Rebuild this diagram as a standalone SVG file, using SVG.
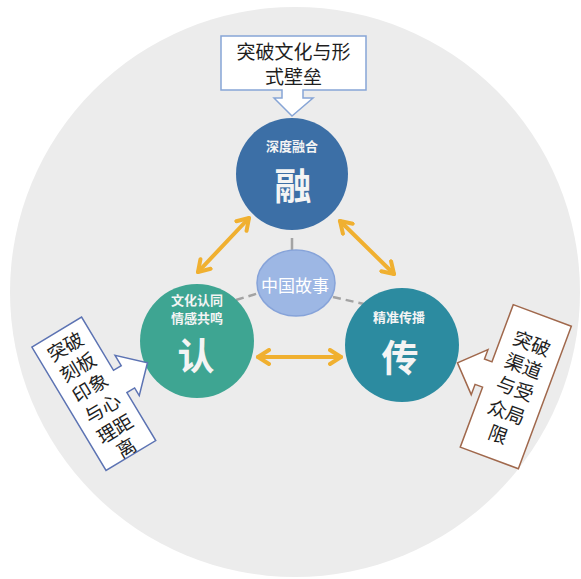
<svg xmlns="http://www.w3.org/2000/svg" width="581" height="579" viewBox="0 0 581 579">
  <style>
    .cjk { font-family: "Noto Sans CJK SC", "Noto Sans", sans-serif; }
    .callout { fill: #ffffff; stroke-width: 1.5; stroke-linejoin: miter; }
    .ctext { font-size: 19px; fill: #1e1e1e; text-anchor: middle; }
    .wtext { fill: #f4f4f4; text-anchor: middle; font-weight: bold; }
    .link { stroke: #f0b030; stroke-width: 4; fill: none; stroke-linecap: round; marker-start: url(#chev); marker-end: url(#chev); }
    .gray { stroke: #a3a3a3; stroke-width: 2.5; fill: none; }
  </style>
  <defs>
    <marker id="chev" markerUnits="userSpaceOnUse" markerWidth="16" markerHeight="18" viewBox="0 0 16 18" refX="13" refY="9" orient="auto-start-reverse">
      <path d="M2,2 L13,9 L2,16" fill="none" stroke="#f0b030" stroke-width="4" stroke-linecap="round" stroke-linejoin="round"/>
    </marker>
  </defs>
  <rect width="581" height="579" fill="#ffffff"/>
  <circle id="background" cx="295" cy="292" r="285" fill="#ececec"/>

  <g id="connectors">
    <line class="gray" x1="292" y1="238" x2="292" y2="250"/>
    <line class="gray" x1="236" y1="300" x2="259" y2="293" stroke-dasharray="8 5"/>
    <line class="gray" x1="333" y1="297" x2="364" y2="304" stroke-dasharray="8 5"/>
    <line class="link" x1="198" y1="272" x2="249" y2="218"/>
    <line class="link" x1="340" y1="221" x2="394" y2="274"/>
    <line class="link" x1="258" y1="357" x2="341" y2="357"/>
  </g>

  <g id="node-rong">
    <circle cx="292" cy="174" r="56" fill="#3c6fa6"/>
    <text class="cjk wtext" x="292" y="151" font-size="13">深度融合</text>
    <text class="cjk wtext" x="293" y="200" font-size="37">融</text>
  </g>

  <g id="node-ren">
    <circle cx="197" cy="341" r="57" fill="#3ea592"/>
    <text class="cjk wtext" font-size="13"><tspan x="197" y="305">文化认同</tspan><tspan x="197" dy="17.5">情感共鸣</tspan></text>
    <text class="cjk wtext" x="196" y="370" font-size="37">认</text>
  </g>

  <g id="node-chuan">
    <circle cx="402" cy="345" r="57" fill="#2c8ba0"/>
    <text class="cjk wtext" x="399" y="322" font-size="13">精准传播</text>
    <text class="cjk wtext" x="400" y="372" font-size="37">传</text>
  </g>

  <g id="node-story">
    <ellipse cx="296" cy="283" rx="39" ry="33" fill="#9db7e4" stroke="#86a3d9" stroke-width="1.5"/>
    <text class="cjk" x="295" y="292" font-size="17" fill="#ffffff" text-anchor="middle">中国故事</text>
  </g>

  <g id="callout-top">
    <path class="callout" stroke="#87a5d6" d="M221,36 L366,36 L366,90 L303,90 L303,98 L313,98 L292,116 L274,98 L282,98 L282,90 L221,90 Z"/>
    <text class="cjk ctext" x="293.5" y="59">突破文化与形</text>
    <text class="cjk ctext" x="293.5" y="84">式壁垒</text>
  </g>

  <g id="callout-left" transform="translate(93.8,393.8) rotate(-31)">
    <path class="callout" stroke="#5c73b3" d="M-29,-72 L29,-72 L29,-10 L38,-10 L38,-22 L62,1 L38,25 L38,16 L29,16 L29,72 L-29,72 Z"/>
    <text class="cjk ctext" font-size="20" x="0" y="-48">突破</text>
    <text class="cjk ctext" font-size="20" x="0" y="-24">刻板</text>
    <text class="cjk ctext" font-size="20" x="0" y="0">印象</text>
    <text class="cjk ctext" font-size="20" x="0" y="24">与心</text>
    <text class="cjk ctext" font-size="20" x="0" y="48">理距</text>
    <text class="cjk ctext" font-size="20" x="0" y="70">离</text>
  </g>

  <g id="callout-right" transform="translate(515.8,386.7) rotate(20.4)">
    <path class="callout" stroke="#a0684c" d="M-31,-76 L31,-76 L31,76 L-31,76 L-31,12 L-39,12 L-39,23 L-63,-2 L-39,-25 L-39,-15 L-31,-15 Z"/>
    <text class="cjk ctext" font-size="20" x="0" y="-39">突破</text>
    <text class="cjk ctext" font-size="20" x="0" y="-15">渠道</text>
    <text class="cjk ctext" font-size="20" x="0" y="9">与受</text>
    <text class="cjk ctext" font-size="20" x="0" y="34">众局</text>
    <text class="cjk ctext" font-size="20" x="0" y="58">限</text>
  </g>
</svg>
